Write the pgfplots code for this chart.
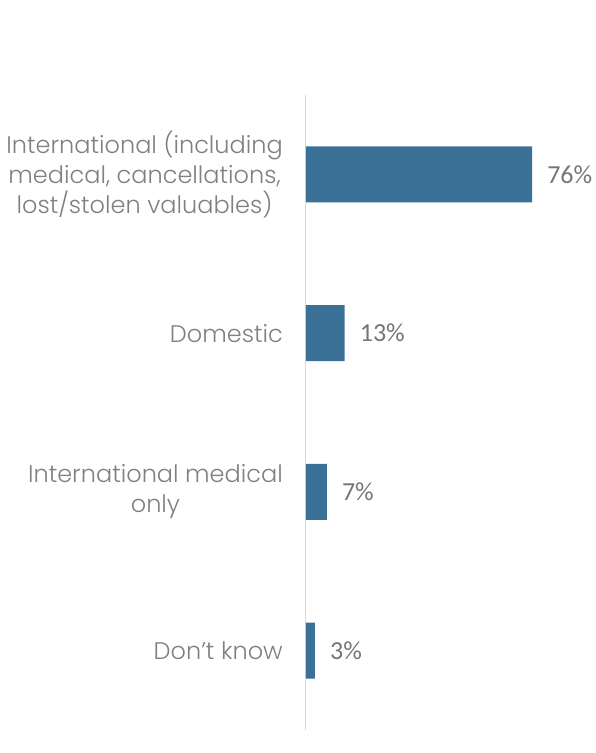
\documentclass[border=0pt]{standalone}
\usepackage{pgfplots}
\pgfplotsset{compat=1.18}
\usepackage{fontspec}
\setmainfont{Poppins Light}
\newfontfamily\valfont{Carlito}
\definecolor{barblue}{HTML}{3B7196}
\definecolor{txtgray}{HTML}{808080}
\definecolor{valgray}{HTML}{767676}
\definecolor{axgray}{HTML}{D9D9D9}
\begin{document}
\begin{tikzpicture}[x=1bp,y=1bp]
\useasboundingbox (-306,-23) rectangle (290,730);
\begin{axis}[at={(0,0)}, anchor=south west, scale only axis,
  width=290bp, height=635bp,
  xbar, xmin=0, xmax=97.5, ymin=-0.5, ymax=3.5, y dir=reverse,
  bar width=56bp,
  axis x line=none, axis y line=left,
  y axis line style={-, draw=axgray, line width=1bp},
  ytick={0,1,2,3},
  yticklabels={{International (including\\medical, cancellations,\\lost/stolen valuables)},Domestic,{International medical\\only},{Don’t know}},
  major tick length=0pt,
  yticklabel style={align=center, anchor=east, inner sep=0pt, xshift=-23bp, text=txtgray, font=\fontsize{24bp}{30bp}\selectfont},
  nodes near coords={\pgfmathprintnumber[assume math mode=true]{\pgfplotspointmeta}\%},
  nodes near coords style={anchor=west, inner sep=0pt, xshift=15bp, text=valgray, font=\valfont\fontsize{26bp}{30bp}\selectfont},
  clip=false,
]
\addplot[draw=none, fill=barblue] coordinates {(76,0) (13,1) (7,2) (3,3)};
\end{axis}
\end{tikzpicture}
\end{document}
